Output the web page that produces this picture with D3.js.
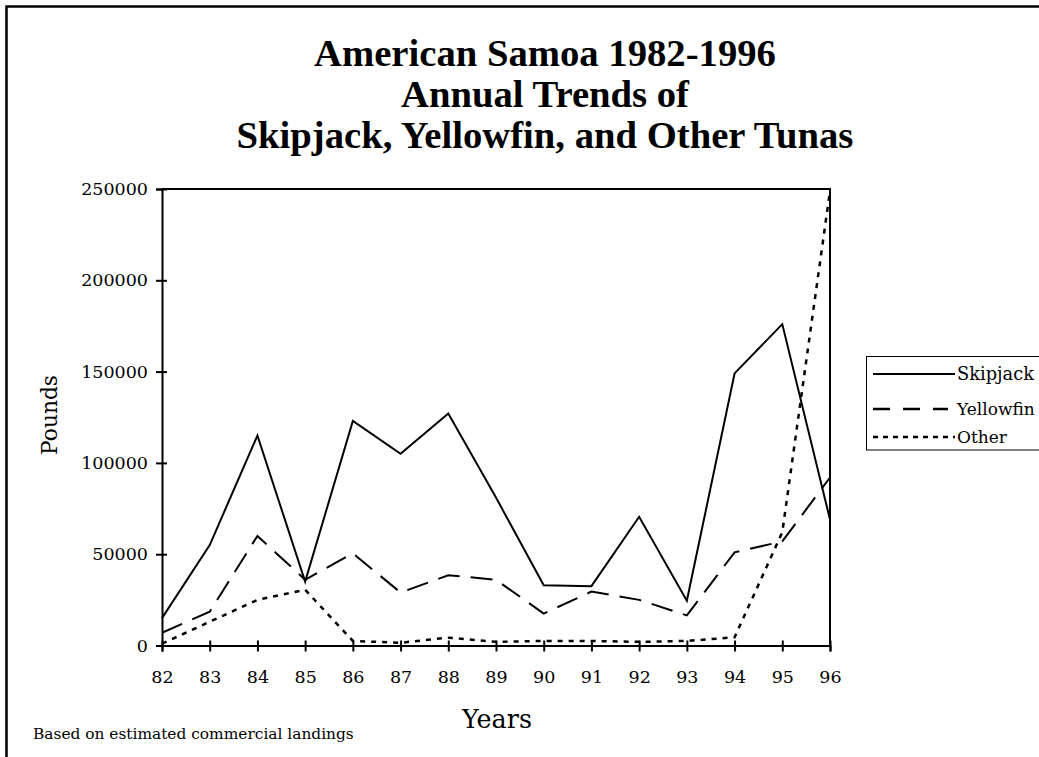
<!DOCTYPE html>
<html><head><meta charset="utf-8">
<script src="https://cdn.jsdelivr.net/npm/d3@7"></script>
<style>html,body{margin:0;padding:0;background:#fff;}svg{display:block;}</style>
</head><body>
<svg id="c" width="1039" height="757"></svg>
<script>
const years = [82,83,84,85,86,87,88,89,90,91,92,93,94,95,96];
const skipjack = [15000,55000,115000,35000,123000,105000,127000,81000,33000,32500,70500,24500,149000,176000,69000];
const yellowfin = [7000,18500,60000,36000,50500,29000,38500,36000,17500,29500,25000,16500,51000,57000,92000];
const other = [1000,13000,25000,30500,2500,1500,4300,2000,2500,2500,2000,2500,4500,62000,249000];
const yTicks = [0,50000,100000,150000,200000,250000];
const seriesNames = ["Skipjack","Yellowfin","Other"];
const titleLines = ["American Samoa 1982-1996","Annual Trends of","Skipjack, Yellowfin, and Other Tunas"];

const svg = d3.select("#c");
const SERIF = "'DejaVu Serif', serif";
const TITLE = "'Liberation Serif', 'Times New Roman', serif";

function fit(sel, w){
  const n = sel.node();
  const fs = parseFloat(sel.attr("font-size"));
  const len = n.getComputedTextLength();
  const nf = fs*w/len;
  sel.attr("font-size", nf.toFixed(2));
  return nf;
}

// outer frame
svg.append("rect").attr("x",6.5).attr("y",6.5).attr("width",1100).attr("height",800)
  .attr("fill","none").attr("stroke","#000").attr("stroke-width",2.5);

const x = d3.scaleLinear().domain([82,96]).range([162,830]);
const y = d3.scaleLinear().domain([0,250000]).range([645.5,189]);

// title
const tb = [66, 107, 148];
const tsel = titleLines.map((t,i)=>svg.append("text").attr("x",545).attr("y",tb[i]).attr("text-anchor","middle")
    .attr("font-family",TITLE).attr("font-weight","bold").attr("font-size",34).text(t));
const tfs = fit(tsel[2], 617);
tsel.forEach(s=>s.attr("font-size",tfs.toFixed(2)));

// plot frame top/right
svg.append("path").attr("d",`M${x(82)},${y(250000)}H${x(96)}V${y(0)}`)
  .attr("fill","none").attr("stroke","#000").attr("stroke-width",2);

// axes
const yAxis = svg.append("g").attr("transform",`translate(${x(82)},0)`)
  .call(d3.axisLeft(y).tickValues(yTicks).tickFormat(d3.format("d")).tickSize(6).tickPadding(8));
yAxis.select(".domain").attr("stroke-width",2);
yAxis.selectAll(".tick line").attr("x1",5).attr("stroke-width",2);
yAxis.selectAll(".tick text").attr("font-family",SERIF).attr("font-size",17.5).attr("fill","#000");

const xAxis = svg.append("g").attr("transform",`translate(0,${y(0)})`)
  .call(d3.axisBottom(x).tickValues(years).tickFormat(d=>String(d)).tickSize(6).tickPadding(19));
xAxis.select(".domain").attr("stroke-width",2);
xAxis.selectAll(".tick line").attr("y1",-5).attr("stroke-width",2);
xAxis.selectAll(".tick text").attr("font-family",SERIF).attr("font-size",17.5).attr("fill","#000");

// axis titles
fit(svg.append("text").attr("x",497).attr("y",728).attr("text-anchor","middle")
  .attr("font-family",SERIF).attr("font-size",24).text("Years"), 70);
fit(svg.append("text").attr("transform","translate(57,415) rotate(-90)").attr("text-anchor","middle")
  .attr("font-family",SERIF).attr("font-size",22).text("Pounds"), 80);
fit(svg.append("text").attr("x",33).attr("y",739)
  .attr("font-family",SERIF).attr("font-size",13).text("Based on estimated commercial landings"), 321);

// lines
const dashes = [null, "22,11", "5,6"];
const widths = [2, 2, 2.5];
const data = [skipjack, yellowfin, other];
const line = d3.line().x((d,i)=>x(years[i])).y(d=>y(d));
data.forEach((s,k)=>{
  svg.append("path").datum(s).attr("d",line).attr("fill","none").attr("stroke","#000")
    .attr("stroke-width",widths[k]).attr("stroke-dasharray",dashes[k]).attr("stroke-linejoin","miter");
});

// legend
svg.append("rect").attr("x",866.5).attr("y",356.5).attr("width",200).attr("height",93.5)
  .attr("fill","#fff").attr("stroke","#000").attr("stroke-width",1);
const ly = [374, 409, 437];
const lend = [955, 948, 955];
const ldash = [null, "17,13", "5,5"];
seriesNames.forEach((n,i)=>{
  svg.append("line").attr("x1",873).attr("x2",lend[i]).attr("y1",ly[i]).attr("y2",ly[i])
    .attr("stroke","#000").attr("stroke-width",i==0?2:2.5).attr("stroke-dasharray",ldash[i]);
  const t = svg.append("text").attr("x",957).attr("y",ly[i]+6).attr("font-family",SERIF)
    .attr("font-size",15).text(n);
  if(i==0) fit(t, 77);
  else t.attr("font-size", 17);
});
</script>
</body></html>
